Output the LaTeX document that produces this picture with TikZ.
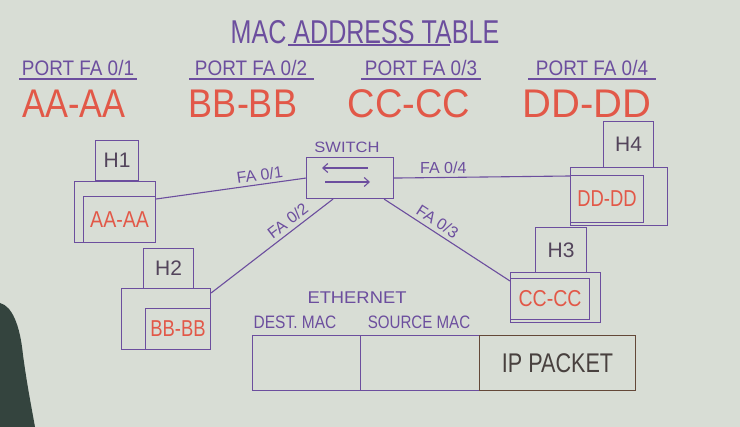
\documentclass[tikz,border=0pt]{standalone}
\usepackage{fontspec}
\usepackage{graphicx}
\setmainfont{Liberation Sans}
\usetikzlibrary{arrows.meta,calc}
\definecolor{board}{RGB}{216,221,213}
\definecolor{ink}{RGB}{108,78,158}
\definecolor{redink}{RGB}{226,88,72}
\definecolor{darkink}{RGB}{72,64,62}
\definecolor{brownink}{RGB}{100,72,56}
\definecolor{person}{RGB}{52,68,62}
\newcommand\hs[2]{\scalebox{#1}[1]{#2}}
\begin{document}
\begin{tikzpicture}[x=1pt,y=-1pt,
  inkline/.style={draw=ink,line width=1.1pt},
  box/.style={draw=ink,line width=1.1pt,rectangle,inner sep=0pt,anchor=north west},
  purpletxt/.style={text=ink,inner sep=0pt},
  redtxt/.style={text=redink,inner sep=0pt},
  portlbl/.style={purpletxt,font=\fontsize{21}{21}\selectfont},
  macval/.style={redtxt,font=\fontsize{40}{40}\selectfont},
  hostlbl/.style={text=darkink!70!ink,inner sep=0pt,font=\fontsize{21}{21}\selectfont},
  hostmac/.style={redtxt,font=\fontsize{23}{23}\selectfont},
  linklbl/.style={purpletxt,inner sep=1pt,font=\fontsize{16}{16}\selectfont},
  barb/.style={-{Straight Barb[length=5pt,width=9pt]}}
]
\fill[board] (0,0) rectangle (740,427);
\useasboundingbox (0,0) rectangle (740,427);
% person at left edge
\fill[person] (0,303) .. controls (12,306) and (20,325) .. (23,355) .. controls (27,385) and (32,410) .. (35,427) -- (0,427) -- cycle;

% title
\node[purpletxt,font=\fontsize{33}{33}\selectfont] (title) at (365,32) {\hs{0.76}{MAC ADDRESS TABLE}};
\draw[inkline] (288,45) -- (450,45);

% port table
\node[portlbl] (p1) at (78,68) {\hs{0.9}{PORT FA 0/1}};
\node[portlbl] (p2) at (251,68) {\hs{0.9}{PORT FA 0/2}};
\node[portlbl] (p3) at (421,68) {\hs{0.9}{PORT FA 0/3}};
\node[portlbl] (p4) at (592,68) {\hs{0.9}{PORT FA 0/4}};
\draw[inkline] (19,79) -- (137,79);
\draw[inkline] (189,79) -- (314,79);
\draw[inkline] (361,79) -- (481,79);
\draw[inkline] (528,79) -- (656,79);
\node[macval] (m1) at (74,104) {\hs{0.86}{AA-AA}};
\node[macval] (m2) at (243,104) {\hs{0.9}{BB-BB}};
\node[macval] (m3) at (409,104) {\hs{0.95}{CC-CC}};
\node[macval] (m4) at (587,104) {\hs{1.0}{DD-DD}};

% switch
\node[box,minimum width=87pt,minimum height=41pt] (sw) at (306,157) {};
\node[purpletxt,font=\fontsize{15}{15}\selectfont] (swl) at (347,147) {\hs{1.1}{SWITCH}};
\draw[ink,line width=1.1pt,barb] (368,168) -- (322,168);
\draw[ink,line width=1.1pt,barb] (325,182) -- (370,182);

% H1
\node[box,minimum width=43pt,minimum height=40pt] (h1top) at (95,140) {};
\node[hostlbl] at (h1top.center) {H1};
\node[box,minimum width=81pt,minimum height=61pt] (h1) at (74,181) {};
\node[box,minimum width=72pt,minimum height=46pt] (h1in) at (83,196) {};
\node[hostmac] at (h1in.center) {\hs{0.85}{AA-AA}};

% H2
\node[box,minimum width=50pt,minimum height=40pt] (h2top) at (143,248) {};
\node[hostlbl] at (h2top.center) {H2};
\node[box,minimum width=89pt,minimum height=61pt] (h2) at (121,288) {};
\node[box,minimum width=65pt,minimum height=41pt] (h2in) at (145,308) {};
\node[hostmac] at (h2in.center) {\hs{0.8}{BB-BB}};

% H3
\node[box,minimum width=51pt,minimum height=45pt] (h3top) at (535,227) {};
\node[hostlbl] at (h3top.center) {H3};
\node[box,minimum width=90pt,minimum height=50pt] (h3) at (510,272) {};
\node[box,minimum width=79pt,minimum height=41pt] (h3in) at (510,278) {};
\node[hostmac] at (h3in.center) {\hs{0.85}{CC-CC}};

% H4
\node[box,minimum width=50pt,minimum height=46pt] (h4top) at (603,121) {};
\node[hostlbl] at (h4top.center) {H4};
\node[box,minimum width=97pt,minimum height=58pt] (h4) at (570,167) {};
\node[box,minimum width=73pt,minimum height=47pt] (h4in) at (570,175) {};
\node[hostmac] at (h4in.center) {\hs{0.8}{DD-DD}};

% links
\draw[inkline] ([yshift=-18pt]h1.north east) -- (sw.west)
  node[linklbl,pos=0.7,sloped,above=2pt] {FA 0/1};
\draw[inkline] ([yshift=-5pt]h2.north east) -- ([xshift=27pt]sw.south west)
  node[linklbl,pos=0.68,sloped,above=3pt] {FA 0/2};
\draw[inkline] ([xshift=-10pt]sw.south east) -- ([yshift=-9pt]h3.north west)
  node[linklbl,pos=0.38,sloped,above=3pt] {FA 0/3};
\draw[inkline] (sw.east) -- ([yshift=-9pt]h4.north west)
  node[linklbl,pos=0.28,above=2pt] {FA 0/4};

% ethernet frame
\node[purpletxt,font=\fontsize{17}{17}\selectfont] (eth) at (357,298) {\hs{1.08}{ETHERNET}};
\node[purpletxt,font=\fontsize{18}{18}\selectfont] (dst) at (295,322) {\hs{0.86}{DEST. MAC}};
\node[purpletxt,font=\fontsize{18}{18}\selectfont] (src) at (419,322) {\hs{0.84}{SOURCE MAC}};
\node[box,minimum width=108pt,minimum height=55pt] (fd) at (252,335) {};
\node[box,minimum width=119pt,minimum height=55pt] (fs) at (360,335) {};
\node[box,draw=brownink,minimum width=156pt,minimum height=55pt] (fip) at (479,335) {};
\node[text=darkink,inner sep=0pt,font=\fontsize{27}{27}\selectfont] at (fip.center) {\hs{0.8}{IP PACKET}};
\end{tikzpicture}
\end{document}
